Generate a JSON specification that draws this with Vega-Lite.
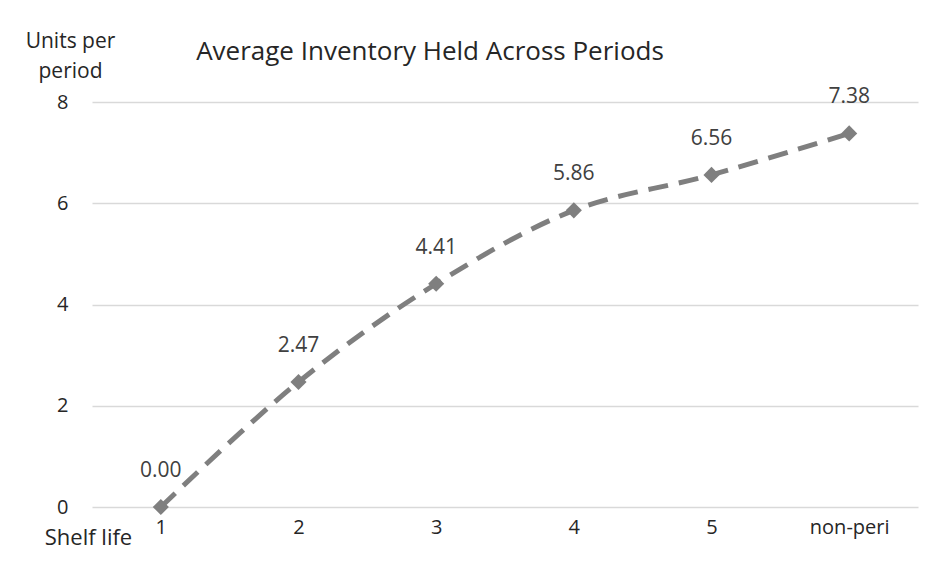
{
  "$schema": "https://vega.github.io/schema/vega-lite/v6.json",
  "width": 826,
  "height": 405,
  "autosize": {"type": "none"},
  "padding": {"left": 92, "top": 102, "right": 16, "bottom": 56},
  "background": "white",
  "config": {
    "font": "Open Sans",
    "view": {"stroke": null}
  },
  "title": {
    "text": "Average Inventory Held Across Periods",
    "fontSize": 26,
    "fontWeight": "normal",
    "color": "#262626",
    "anchor": "middle",
    "baseline": "middle",
    "dx": -75,
    "dy": 48,
    "offset": 0
  },
  "data": {
    "values": [
      {"shelf": "1", "inv": 0.00},
      {"shelf": "2", "inv": 2.47},
      {"shelf": "3", "inv": 4.41},
      {"shelf": "4", "inv": 5.86},
      {"shelf": "5", "inv": 6.56},
      {"shelf": "non-peri", "inv": 7.38}
    ]
  },
  "encoding": {
    "x": {
      "field": "shelf",
      "type": "ordinal",
      "sort": null,
      "scale": {"paddingInner": 0, "paddingOuter": 0.5},
      "axis": {
        "title": "Shelf life",
        "titleFontSize": 22,
        "titleFontWeight": "normal",
        "titleColor": "#262626",
        "titleAngle": 0,
        "titleAlign": "center",
        "titleBaseline": "middle",
        "titleX": -4,
        "titleY": 30,
        "labelAngle": 0,
        "labelFontSize": 20,
        "labelColor": "#262626",
        "labelPadding": 20,
        "labelBaseline": "middle",
        "ticks": false,
        "domain": false,
        "grid": false
      }
    },
    "y": {
      "field": "inv",
      "type": "quantitative",
      "scale": {"domain": [0, 8], "nice": false},
      "axis": {
        "values": [0, 2, 4, 6, 8],
        "title": ["Units per", "period"],
        "titleFontSize": 21,
        "titleFontWeight": "normal",
        "titleColor": "#262626",
        "titleAngle": 0,
        "titleAlign": "center",
        "titleBaseline": "middle",
        "titleLineHeight": 30,
        "titleX": -22,
        "titleY": -61,
        "labelFontSize": 20,
        "labelColor": "#262626",
        "labelPadding": 24,
        "ticks": false,
        "domain": false,
        "grid": true,
        "gridColor": "#d9d9d9",
        "gridWidth": 1.5
      }
    }
  },
  "layer": [
    {
      "mark": {
        "type": "line",
        "color": "#7f7f7f",
        "strokeWidth": 5,
        "strokeDash": [20, 11],
        "interpolate": "catmull-rom"
      }
    },
    {
      "mark": {
        "type": "point",
        "shape": "diamond",
        "filled": true,
        "color": "#7f7f7f",
        "size": 260,
        "opacity": 1
      }
    },
    {
      "mark": {
        "type": "text",
        "dy": -36,
        "fontSize": 21,
        "color": "#404040",
        "baseline": "middle"
      },
      "encoding": {
        "text": {"field": "inv", "type": "quantitative", "format": ".2f"}
      }
    }
  ]
}
